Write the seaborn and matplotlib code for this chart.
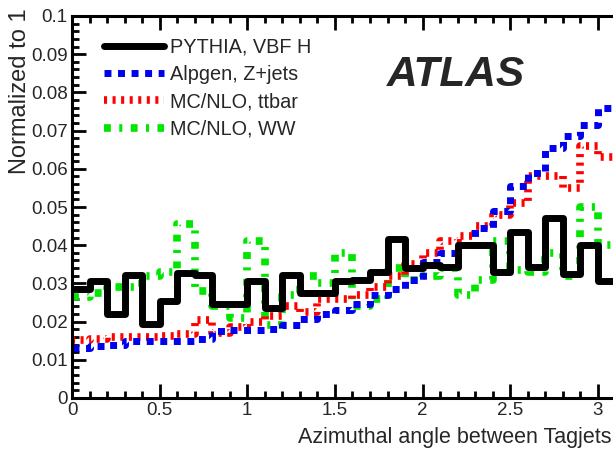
import numpy as np
import pandas as pd
import seaborn as sns
import matplotlib
matplotlib.use("Agg")
import matplotlib.pyplot as plt
from matplotlib.ticker import MultipleLocator

# histogram contents, 0.1 wide bins starting at 0
bin_edges = [round(0.1 * i, 1) for i in range(32)]
pythia_vbf = [0.0285, 0.0305, 0.022, 0.0323, 0.0195, 0.0254, 0.0328, 0.0322, 0.0247, 0.0247,
              0.0307, 0.0235, 0.0322, 0.0274, 0.0274, 0.0305, 0.031, 0.033, 0.0417, 0.034,
              0.0348, 0.0344, 0.040, 0.040, 0.0329, 0.0435, 0.0344, 0.047, 0.0325, 0.040, 0.0305]
alpgen_zjets = [0.013, 0.0135, 0.0138, 0.0148, 0.015, 0.0148, 0.015, 0.0155, 0.0175, 0.0178,
                0.0178, 0.018, 0.019, 0.0208, 0.022, 0.023, 0.0245, 0.027, 0.0285, 0.031,
                0.0355, 0.038, 0.040, 0.0445, 0.049, 0.0555, 0.059, 0.0655, 0.0685, 0.0715, 0.076]
mcnlo_ttbar = [0.0153, 0.0155, 0.016, 0.016, 0.016, 0.0163, 0.0168, 0.0205, 0.017, 0.0185,
               0.020, 0.0215, 0.024, 0.0225, 0.026, 0.026, 0.027, 0.029, 0.032, 0.035,
               0.038, 0.041, 0.0425, 0.045, 0.048, 0.051, 0.058, 0.058, 0.055, 0.066, 0.063]
mcnlo_ww = [0.0265, 0.0275, 0.029, 0.029, 0.032, 0.033, 0.0455, 0.028, 0.024, 0.021,
            0.041, 0.019, 0.027, 0.032, 0.030, 0.038, 0.024, 0.026, 0.034, 0.031,
            0.032, 0.034, 0.027, 0.031, 0.041, 0.0335, 0.033, 0.038, 0.032, 0.050, 0.040]
labels = ["PYTHIA, VBF H", "Alpgen, Z+jets", "MC/NLO, ttbar", "MC/NLO, WW"]

centers = [e + 0.05 for e in bin_edges[:-1]]

sns.set_style("ticks")
plt.rcParams["font.family"] = ["Liberation Sans", "DejaVu Sans"]

fig = plt.figure(figsize=(6.13, 4.49), dpi=100)
ax = fig.add_axes([72 / 613, 1 - 398 / 449, 561 / 613, 382 / 449])

styles = [
    dict(color="black", linewidth=5.0, linestyle="-"),
    dict(color="#0000ee", linewidth=5.0, linestyle=(0, (1, 0.95))),
    dict(color="#ff0000", linewidth=5.5, linestyle=(0, (0.4, 0.72))),
    dict(color="#00e600", linewidth=5.5, linestyle=(0, (0.9, 1.1, 0.4, 1.1))),
]
series = [pythia_vbf, alpgen_zjets, mcnlo_ttbar, mcnlo_ww]

# draw in reverse so the black one sits on top
for vals, lab, st in reversed(list(zip(series, labels, styles))):
    df = pd.DataFrame({"x": centers, "w": vals})
    sns.histplot(data=df, x="x", weights="w", bins=bin_edges, element="step", fill=False,
                 ax=ax, label=lab, dash_capstyle="butt", **st)

ax.set_xlim(0, 3.2)
ax.set_ylim(0, 0.1)
ax.set_xlabel("")
ax.set_ylabel("")

ax.xaxis.set_major_locator(MultipleLocator(0.5))
ax.xaxis.set_minor_locator(MultipleLocator(0.1))
ax.yaxis.set_major_locator(MultipleLocator(0.01))
ax.yaxis.set_minor_locator(MultipleLocator(0.002))
ax.xaxis.set_major_formatter(plt.FuncFormatter(lambda v, p: "%g" % round(v, 2)))
ax.yaxis.set_major_formatter(plt.FuncFormatter(lambda v, p: "%g" % round(v, 3)))
ax.tick_params(which="both", direction="in", top=True, right=True, width=2, labelsize=13.5, color="black")
ax.tick_params(which="major", length=10, pad=3)
ax.tick_params(which="minor", length=5)
for sp in ax.spines.values():
    sp.set_linewidth(2.2)
    sp.set_color("black")

fig.text(20 / 613, 1 - 8 / 449, "Normalized to 1", rotation=90, ha="center", va="top", fontsize=17)
fig.text(612 / 613, 1 - 437 / 449, "Azimuthal angle between Tagjets", ha="right", va="center", fontsize=15.5)
fig.text(456 / 613, 1 - 75 / 449, "ATLAS", ha="center", va="center", fontsize=30.5,
         fontweight="bold", fontstyle="italic")

handles, labs = ax.get_legend_handles_labels()
order = [labs.index(l) for l in labels]
ax.legend([handles[i] for i in order], labels, loc="upper left", bbox_to_anchor=(0.026, 0.99),
          frameon=False, fontsize=14.3, handlelength=3.0, handletextpad=0.3, labelspacing=0.42)

fig.savefig("out.png", dpi=100)
